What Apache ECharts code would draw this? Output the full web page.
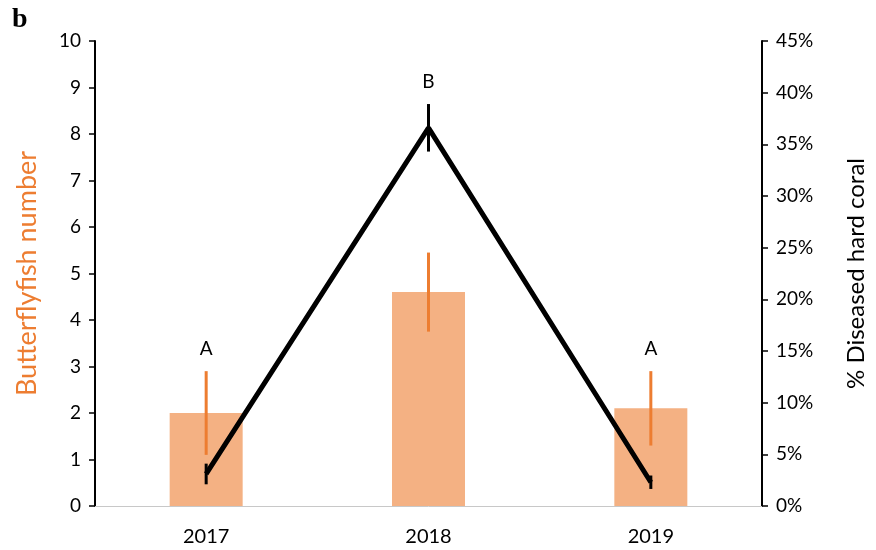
<!DOCTYPE html>
<html><head><meta charset="utf-8">
<script src="https://cdn.jsdelivr.net/npm/echarts@6/dist/echarts.min.js"></script>
<style>html,body{margin:0;padding:0;background:#fff}#c{width:876px;height:550px}</style>
</head><body><div id="c"></div>
<script>
const years = ["2017", "2018", "2019"];
const butterflyMean = [2.0, 4.6, 2.1];
const butterflyErr = [0.9, 0.85, 0.8];
const diseasedMean = [3.1, 36.6, 2.3];
const diseasedErr = [1.0, 2.3, 0.65];
const sigLetters = ["A", "B", "A"];
const leftTicks = [0, 10, 1];
const rightTicks = [0, 45, 5];

const chart = echarts.init(document.getElementById('c'));
const font = "Lato, 'Open Sans', 'Liberation Sans', sans-serif";

function errSeries(name, mean, err, yAxisIndex, color, width) {
  return {
    name: name, type: 'custom', yAxisIndex: yAxisIndex, z: 5,
    data: years.map((y, i) => [i, mean[i] - err[i], mean[i] + err[i]]),
    renderItem: function (params, api) {
      const lo = api.coord([api.value(0), api.value(1)]);
      const hi = api.coord([api.value(0), api.value(2)]);
      return { type: 'line', shape: { x1: lo[0], y1: lo[1], x2: hi[0], y2: hi[1] },
        style: { stroke: color, lineWidth: width } };
    }
  };
}

chart.setOption({
  animation: false,
  grid: { left: 95, right: 108, top: 41, bottom: 44 },
  graphic: [{ type: 'text', left: 12, top: 6,
    style: { text: 'b', font: 'bold 28px "Liberation Serif", "DejaVu Serif", serif', fill: '#000' } }],
  xAxis: {
    type: 'category', data: years,
    axisLine: { lineStyle: { color: '#c8c8c8', width: 1 } },
    axisTick: { show: false },
    axisLabel: { color: '#000', fontSize: 20, fontFamily: font, margin: 21 }
  },
  yAxis: [
    { type: 'value', min: leftTicks[0], max: leftTicks[1], interval: leftTicks[2], position: 'left',
      name: 'Butterflyfish number', nameLocation: 'middle', nameGap: 54,
      nameTextStyle: { color: '#ED7D31', fontSize: 27, fontFamily: font },
      axisLine: { show: true, lineStyle: { color: '#000', width: 2 } },
      axisTick: { show: true, length: 6, lineStyle: { color: '#000', width: 1.5 } },
      axisLabel: { color: '#000', fontSize: 19, fontFamily: font, margin: 14 },
      splitLine: { show: false } },
    { type: 'value', min: rightTicks[0], max: rightTicks[1], interval: rightTicks[2], position: 'right',
      name: '% Diseased hard coral', nameLocation: 'middle', nameGap: 82, nameRotate: 90,
      nameTextStyle: { color: '#000', fontSize: 24, fontFamily: font },
      axisLine: { show: true, lineStyle: { color: '#000', width: 2 } },
      axisTick: { show: true, length: 6, lineStyle: { color: '#000', width: 1.5 } },
      axisLabel: { color: '#000', fontSize: 19, fontFamily: font, margin: 14, formatter: '{value}%' },
      splitLine: { show: false } }
  ],
  series: [
    { name: 'Butterflyfish', type: 'bar', yAxisIndex: 0, data: butterflyMean, barWidth: 73,
      itemStyle: { color: '#F4B183' } },
    errSeries('bfErr', butterflyMean, butterflyErr, 0, '#ED7D31', 3),
    { name: 'Diseased', type: 'line', yAxisIndex: 1, data: diseasedMean, showSymbol: false, symbol: 'none',
      lineStyle: { color: '#000', width: 5 }, z: 6 },
    errSeries('dErr', diseasedMean, diseasedErr, 1, '#000', 3),
    { name: 'letters', type: 'custom', yAxisIndex: 0, z: 7,
      data: years.map((y, i) => [i, butterflyMean[i] + butterflyErr[i], i]),
      renderItem: function (params, api) {
        const i = api.value(0);
        const p1 = api.coord([i, api.value(1)]);
        const dTop = chart.convertToPixel({ yAxisIndex: 1 }, diseasedMean[i] + diseasedErr[i]);
        const top = Math.min(p1[1], dTop);
        return { type: 'text', style: { text: sigLetters[i], x: p1[0], y: top - 22,
          align: 'center', verticalAlign: 'middle', font: '19px ' + font, fill: '#000' } };
      } }
  ]
});
</script></body></html>
